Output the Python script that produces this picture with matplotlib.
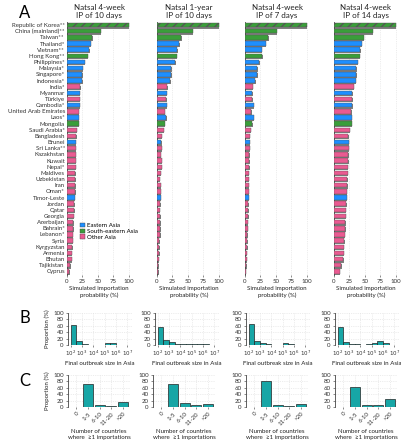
import numpy as np
import matplotlib
matplotlib.use("Agg")
import matplotlib.pyplot as plt
from matplotlib.patches import Patch

plt.rcParams['font.family'] = ['Lato', 'DejaVu Sans']

countries = ["Republic of Korea**", "China (mainland)**", "Taiwan**", "Thailand*", "Vietnam**",
             "Hong Kong**", "Philippines*", "Malaysia*", "Singapore*", "Indonesia*", "India*",
             "Myanmar", "Türkiye", "Cambodia*", "United Arab Emirates", "Laos*", "Mongolia",
             "Saudi Arabia*", "Bangladesh", "Brunei", "Sri Lanka**", "Kazakhstan", "Kuwait",
             "Nepal*", "Maldives", "Uzbekistan", "Iran", "Oman*", "Timor-Leste", "Jordan",
             "Qatar", "Georgia", "Azerbaijan", "Bahrain*", "Lebanon*", "Syria", "Kyrgyzstan",
             "Armenia", "Bhutan", "Tajikistan", "Cyprus"]
# g = green, b = blue, p = pink (as coloured in the figure)
groups = ["g", "g", "g", "b", "b", "g", "b", "b", "b", "b", "p",
          "b", "p", "b", "p", "b", "g", "p", "p", "b", "p", "p", "p",
          "p", "p", "p", "p", "p", "b", "p", "p", "p", "p", "p", "p", "p", "p",
          "p", "p", "p", "p"]

titles = ["Natsal 4-week\nIP of 10 days", "Natsal 1-year\nIP of 10 days",
          "Natsal 4-week\nIP of 7 days", "Natsal 4-week\nIP of 14 days"]

prob_4w_10 = [100, 55, 41, 39, 36, 33.5, 29, 26, 25, 25, 21.6, 20.5, 20.5, 20.5, 19, 19.5, 19,
              16, 15, 14.5, 14.5, 14, 14, 14, 13.8, 13.5, 13.5, 13.5, 12.4, 12, 11.5, 11, 10.5,
              10, 9.5, 9, 8.5, 8, 8, 5.5, 3.7]
prob_1y_10 = [100, 58, 39.5, 36, 33, 32, 30, 23, 23, 21.5, 17, 16, 15, 16, 12.5, 15, 12.5,
              11, 8, 7, 7.5, 6.5, 7.5, 7.5, 6, 4.5, 6, 6.5, 6, 5.5, 4.5, 5.5, 5.5, 5.5, 5, 4,
              4, 3.5, 3, 2, 2]
prob_4w_7 = [100, 52, 37.7, 33.4, 27, 28, 23, 19.7, 19.7, 17, 13, 12, 12, 14, 10, 14, 12,
             9.5, 7.7, 7.7, 7.7, 7, 7, 7, 6.5, 6, 6, 6, 6, 5.5, 5, 5, 4.5, 4.5, 4, 3.5, 3.5,
             3, 3, 2, 1.5]
prob_4w_14 = [100, 63, 48.6, 45, 42.6, 42, 38.8, 36, 36.5, 35.5, 32, 29.5, 30, 29.5, 28,
              28.5, 28.5, 25.7, 23.5, 24, 24, 23, 23, 22.5, 22, 21.5, 21.5, 21, 20.5, 20,
              19.5, 19, 18.5, 18, 17.5, 17, 16, 15.5, 15, 12, 9]
probs = [prob_4w_10, prob_1y_10, prob_4w_7, prob_4w_14]

# final outbreak size histogram (half-decade bins, log10 edges 2..7)
size_edges = [2, 2.5, 3, 3.5, 4, 4.5, 5, 5.5, 6, 6.5, 7]
size_hist = [
    [62, 12, 4, 1, 1, 1, 6, 6, 1.5, 1],
    [57, 17, 8, 2, 2, 2, 4, 4, 2, 1],
    [67, 13, 5, 2, 1, 1, 5, 3, 1, 1],
    [56, 8, 3, 2, 1, 3, 7, 11, 6, 1],
]

n_cats = ["0", "1-5", "6-10", "11-20", ">20"]
n_hist = [
    [0.5, 72, 7, 3, 17],
    [0.5, 72, 11, 6, 10],
    [0.5, 80, 6, 4, 9],
    [0.5, 64, 5, 5, 25],
]

colors = {"g": "#3a9e3a", "b": "#1e8fff", "p": "#ea5a91"}
teal = "#17a6a6"
fs = 4.4

fig = plt.figure(figsize=(4.01, 4.40), dpi=100)


def px(l, t, r, b):
    return [l / 401, 1 - b / 440, (r - l) / 401, (b - t) / 440]


def style(ax):
    for s in ["top", "right", "bottom"]:
        ax.spines[s].set_visible(False)
    ax.spines["left"].set_linewidth(0.6)
    ax.spines["left"].set_color("#444444")
    ax.tick_params(labelsize=fs, length=1.5, width=0.4, pad=1.5, colors="#333333")
    ax.grid(True, color="#dddddd", linestyle=(0, (2, 2)), linewidth=0.4)
    ax.set_axisbelow(True)


a_lefts = [67, 157, 245, 334]
b_lefts = [68, 155, 246, 335]
c_lefts = [68, 153, 246, 335]
y = np.arange(len(countries))

for i in range(4):
    ax = fig.add_axes(px(a_lefts[i], 22, a_lefts[i] + 64, 274.5))
    style(ax)
    ax.grid(axis="y", visible=False)
    vals = np.array(probs[i])
    ax.barh(y + 0.2, vals, left=0.8, height=0.72, color="#808080", zorder=2)
    cols = [colors[g] for g in groups]
    bars = ax.barh(y, vals, height=0.72, color=cols, edgecolor="#555555", linewidth=0.3, zorder=3)
    bars[0].set_hatch("////")
    ax.set_xlim(0, 104)
    ax.set_ylim(len(countries) - 0.5, -0.5)
    ax.set_xticks([0, 25, 50, 75, 100])
    ax.set_yticks(y)
    if i == 0:
        ax.set_yticklabels(countries)
        ax.tick_params(axis="y", length=0)
        handles = [Patch(facecolor=colors["b"], edgecolor="#444444", linewidth=0.3, label="Eastern Asia"),
                   Patch(facecolor=colors["g"], edgecolor="#444444", linewidth=0.3, label="South-eastern Asia"),
                   Patch(facecolor=colors["p"], edgecolor="#444444", linewidth=0.3, label="Other Asia")]
        ax.legend(handles=handles, loc="upper left", bbox_to_anchor=(0.2, 0.205), frameon=False,
                  fontsize=fs, handlelength=0.8, handleheight=0.8, borderpad=0,
                  labelspacing=0.05, handletextpad=0.4, borderaxespad=0)
    else:
        ax.set_yticklabels([])
        ax.tick_params(axis="y", length=0)
    ax.set_title(titles[i], fontsize=5.8, pad=3, color="#222222")
    ax.set_xlabel("Simulated importation\nprobability (%)", fontsize=fs, labelpad=2, color="#222222")

    # panel B
    bx = fig.add_axes(px(b_lefts[i], 313, b_lefts[i] + 64, 345))
    style(bx)
    edges = np.array(size_edges)
    bx.bar(edges[:-1], size_hist[i], width=np.diff(edges), align="edge", color=teal,
           edgecolor="#222222", linewidth=0.5, zorder=3)
    bx.set_xlim(1.76, 7.4)
    bx.set_ylim(0, 100)
    bx.set_yticks([0, 20, 40, 60, 80, 100])
    bx.set_xticks([2, 3, 4, 5, 6, 7])
    bx.set_xticklabels([f"$10^{{{k}}}$" for k in range(2, 8)], fontsize=4.0)
    bx.set_xlabel("Final outbreak size in Asia", fontsize=fs, labelpad=2, color="#222222")
    if i == 0:
        bx.set_ylabel("Proportion (%)", fontsize=fs, labelpad=2, color="#222222")

    # panel C
    cx = fig.add_axes(px(c_lefts[i], 375, c_lefts[i] + 62, 407))
    style(cx)
    cx.bar(np.arange(len(n_cats)), n_hist[i], width=0.85, color=teal,
           edgecolor="#222222", linewidth=0.5, zorder=3)
    cx.set_xlim(-0.7, 4.6)
    cx.set_ylim(0, 100)
    cx.set_yticks([0, 20, 40, 60, 80, 100])
    cx.set_xticks(np.arange(len(n_cats)))
    cx.set_xticklabels(n_cats, rotation=45, ha="right", rotation_mode="anchor")
    cx.set_xlabel("Number of countries\nwhere  \u22651 importations", fontsize=fs, labelpad=2,
                  color="#222222")
    if i == 0:
        cx.set_ylabel("Proportion (%)", fontsize=fs, labelpad=2, color="#222222")

fig.text(25 / 401, 1 - 13 / 440, "A", fontsize=12, ha="center", va="center")
fig.text(25 / 401, 1 - 318 / 440, "B", fontsize=12, ha="center", va="center")
fig.text(25 / 401, 1 - 381 / 440, "C", fontsize=12, ha="center", va="center")

fig.savefig("out.png", dpi=100)
